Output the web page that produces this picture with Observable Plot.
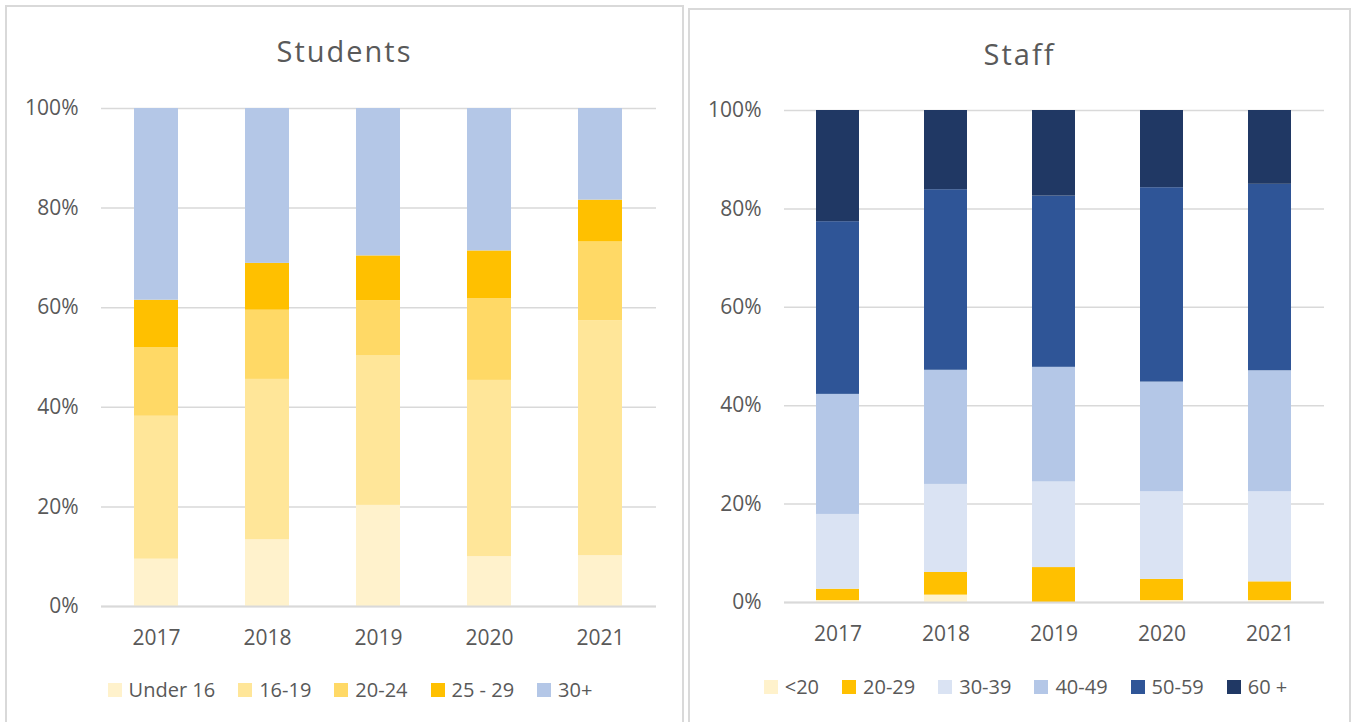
<!DOCTYPE html>
<html>
<head>
<meta charset="utf-8">
<script src="https://cdn.jsdelivr.net/npm/d3@7"></script>
<script src="https://cdn.jsdelivr.net/npm/@observablehq/plot@0.6"></script>
<style>
  html, body { margin: 0; padding: 0; background: #fff; width: 1357px; height: 722px; overflow: hidden; }
  body { position: relative; font-family: "Open Sans", sans-serif; color: #595959; }
  .panel { position: absolute; box-sizing: border-box; border: 2px solid #d9d9d9; background: #fff; }
  .title { position: absolute; text-align: center; font-size: 29px; line-height: 34px; letter-spacing: 2px; color: #595959; font-family: "Open Sans", sans-serif; }
  .chart { position: absolute; }
  .legend { position: absolute; display: flex; justify-content: center; }
  .lg-swatches { font-family: "Open Sans", sans-serif !important; font-size: 20px !important; color: #595959 !important; margin: 0 !important; }
  .lg-swatch { margin-right: 23px !important; }
  .lg-swatch:last-child { margin-right: 0 !important; }
  .lg-swatch > svg { margin-right: 7px !important; }
</style>
</head>
<body>
<div class="panel" style="left:5px; top:5px; width:679px; height:740px;"></div>
<div class="panel" style="left:688px; top:8px; width:663px; height:740px;"></div>
<div class="title" style="left:5px; width:679px; top:34px;">Students</div>
<div class="title" style="left:688px; width:663px; top:37px;">Staff</div>
<div id="c1" class="chart" style="left:0px; top:90px;"></div>
<div id="c2" class="chart" style="left:688px; top:90px;"></div>
<div id="l1" class="legend" style="left:0px; width:700px; top:673px;"></div>
<div id="l2" class="legend" style="left:688px; width:675px; top:670px;"></div>
<script>
// ---- Data (percent of total) ----
const years = ["2017", "2018", "2019", "2020", "2021"];

const studentGroups = ["Under 16", "16-19", "20-24", "25 - 29", "30+"];
const studentColors = ["#FFF2CC", "#FFE699", "#FFD966", "#FFC000", "#B4C7E7"];
const studentUnder16 = [9.5, 13.4, 20.3, 10.0, 10.2];
const student16to19  = [28.7, 32.2, 30.0, 35.4, 47.2];
const student20to24  = [13.8, 13.9, 11.1, 16.4, 15.8];
const student25to29  = [9.5, 9.4, 9.0, 9.6, 8.4];
const student30plus  = [38.5, 31.1, 29.6, 28.6, 18.4];

const staffGroups = ["<20", "20-29", "30-39", "40-49", "50-59", "60 +"];
const staffColors = ["#FFF2CC", "#FFC000", "#DAE3F3", "#B4C7E7", "#2F5597", "#203864"];
const staffUnder20 = [0.4, 1.5, 0.0, 0.4, 0.4];
const staff20to29  = [2.3, 4.6, 7.1, 4.3, 3.8];
const staff30to39  = [15.2, 17.9, 17.4, 17.8, 18.3];
const staff40to49  = [24.4, 23.2, 23.3, 22.3, 24.6];
const staff50to59  = [35.1, 36.7, 34.8, 39.5, 37.9];
const staff60plus  = [22.6, 16.1, 17.4, 15.7, 15.0];

const yTicks = [0, 20, 40, 60, 80, 100];

// ---- build long tables ----
function toRows(groups, series) {
  const rows = [];
  groups.forEach((g, gi) => {
    years.forEach((yr, yi) => rows.push({year: yr, group: g, value: series[gi][yi]}));
  });
  return rows;
}
const studentRows = toRows(studentGroups, [studentUnder16, student16to19, student20to24, student25to29, student30plus]);
const staffRows = toRows(staffGroups, [staffUnder20, staff20to29, staff30to39, staff40to49, staff50to59, staff60plus]);

const fontStyle = {fontFamily: "'Open Sans', sans-serif", fontSize: "20px", color: "#595959", background: "transparent", overflow: "visible"};

function makeChart(rows, groups, colors, opts) {
  return Plot.plot({
    width: opts.width,
    height: 570,
    marginLeft: opts.ml,
    marginRight: opts.mr,
    marginTop: opts.mt,
    marginBottom: opts.mb,
    style: fontStyle,
    x: {type: "band", domain: years, paddingInner: 0.6, paddingOuter: 0.3, axis: null, label: null},
    y: {domain: [0, 100], axis: null, label: null},
    color: {type: "ordinal", domain: groups, range: colors},
    marks: [
      Plot.ruleY(yTicks, {y: d => d, stroke: "#d9d9d9", strokeWidth: 1.5}),
      Plot.barY(rows, Plot.stackY({x: "year", y: "value", fill: "group", order: groups})),
      Plot.ruleY([0], {stroke: "#d9d9d9", strokeWidth: 2}),
      Plot.axisY(yTicks, {label: null, tickSize: 0, tickPadding: 23, tickFormat: d => d + "%", fontSize: 21, fill: "#595959"}),
      Plot.axisX(years, {label: null, tickSize: 0, tickPadding: 24, fontSize: 21, fill: "#595959"})
    ]
  });
}

document.getElementById("c1").append(makeChart(studentRows, studentGroups, studentColors, {width: 680, ml: 101, mr: 24, mt: 18, mb: 54}));
document.getElementById("c2").append(makeChart(staffRows, staffGroups, staffColors, {width: 669, ml: 96, mr: 33, mt: 20, mb: 58}));

function makeLegend(groups, colors) {
  return Plot.legend({
    color: {type: "ordinal", domain: groups, range: colors},
    swatchSize: 14,
    className: "lg",
    style: {fontFamily: "'Open Sans', sans-serif", fontSize: "20px", color: "#595959"}
  });
}
document.getElementById("l1").append(makeLegend(studentGroups, studentColors));
document.getElementById("l2").append(makeLegend(staffGroups, staffColors));
</script>
</body>
</html>
